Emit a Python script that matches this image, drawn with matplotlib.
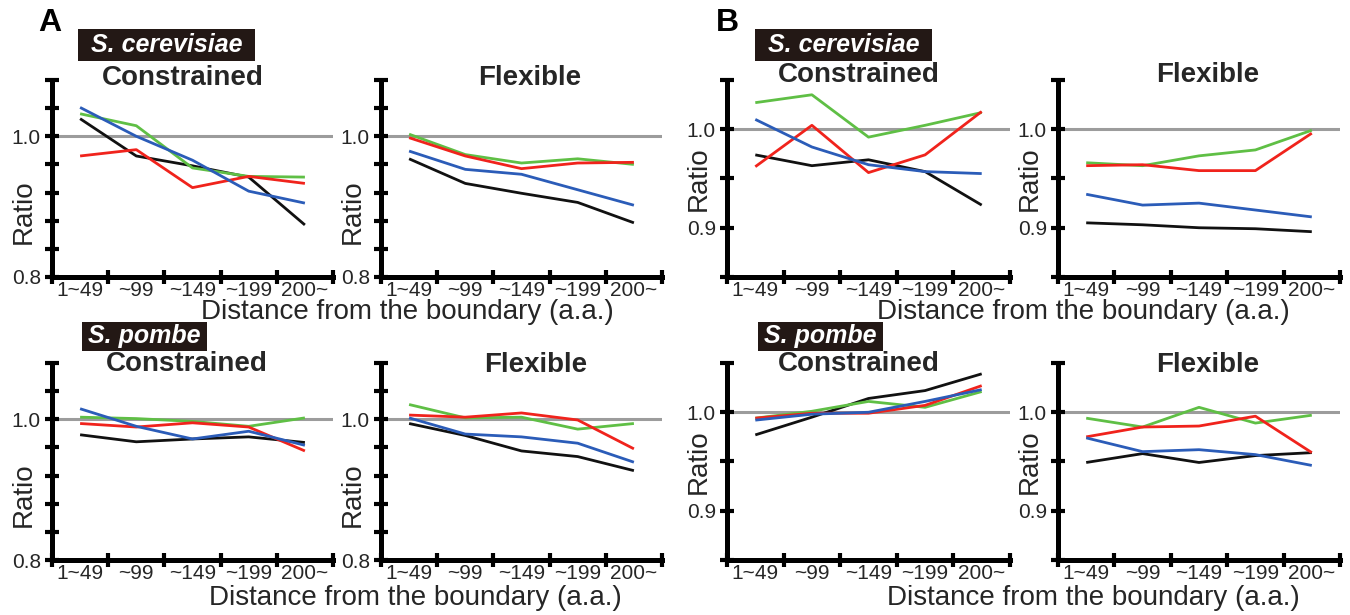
"""Ratio vs distance from the boundary, S. cerevisiae / S. pombe, panels A and B."""
import matplotlib
matplotlib.use("Agg")
import matplotlib.pyplot as plt
from matplotlib.patches import Rectangle

plt.rcParams["font.family"] = ["Liberation Sans", "DejaVu Sans"]

CATS = ["1~49", "~99", "~149", "~199", "200~"]
SERIES = ["black", "green", "red", "blue"]

# panel A (y 0.8 - 1.08)
A_CER_CON = {
    "black": [1.025, 0.972, 0.958, 0.942, 0.874],
    "green": [1.032, 1.015, 0.955, 0.943, 0.942],
    "red":   [0.972, 0.981, 0.927, 0.943, 0.933],
    "blue":  [1.041, 1.000, 0.966, 0.922, 0.905],
}
A_CER_FLX = {
    "black": [0.968, 0.933, 0.919, 0.906, 0.877],
    "green": [1.003, 0.974, 0.962, 0.968, 0.960],
    "red":   [0.998, 0.972, 0.954, 0.962, 0.963],
    "blue":  [0.979, 0.953, 0.946, 0.924, 0.902],
}
A_POM_CON = {
    "black": [0.978, 0.968, 0.972, 0.975, 0.967],
    "green": [1.003, 1.001, 0.997, 0.990, 1.002],
    "red":   [0.994, 0.989, 0.995, 0.989, 0.955],
    "blue":  [1.015, 0.990, 0.972, 0.983, 0.963],
}
A_POM_FLX = {
    "black": [0.994, 0.977, 0.955, 0.947, 0.927],
    "green": [1.021, 1.002, 1.003, 0.986, 0.994],
    "red":   [1.006, 1.003, 1.009, 0.999, 0.958],
    "blue":  [1.002, 0.979, 0.975, 0.966, 0.939],
}
# panel B (y 0.85 - 1.05)
B_CER_CON = {
    "black": [0.974, 0.963, 0.969, 0.957, 0.923],
    "green": [1.027, 1.035, 0.992, 1.004, 1.017],
    "red":   [0.962, 1.004, 0.956, 0.974, 1.018],
    "blue":  [1.010, 0.982, 0.964, 0.957, 0.955],
}
B_CER_FLX = {
    "black": [0.905, 0.903, 0.900, 0.899, 0.896],
    "green": [0.966, 0.963, 0.973, 0.979, 0.999],
    "red":   [0.963, 0.964, 0.958, 0.958, 0.996],
    "blue":  [0.934, 0.923, 0.925, 0.918, 0.911],
}
B_POM_CON = {
    "black": [0.977, 0.995, 1.014, 1.022, 1.039],
    "green": [0.994, 1.001, 1.011, 1.005, 1.021],
    "red":   [0.994, 0.999, 0.999, 1.007, 1.027],
    "blue":  [0.992, 0.998, 1.000, 1.011, 1.023],
}
B_POM_FLX = {
    "black": [0.949, 0.958, 0.949, 0.956, 0.959],
    "green": [0.994, 0.985, 1.005, 0.989, 0.997],
    "red":   [0.975, 0.985, 0.986, 0.996, 0.959],
    "blue":  [0.974, 0.960, 0.962, 0.957, 0.946],
}

COLORS = {"black": "#111111", "green": "#5fbf45", "red": "#f0231c", "blue": "#2b5cb8"}
TXT = "#262626"
W, H = 1350, 615


def px_box(x0, x1, ytop, ybot):
    return [x0 / W, 1 - ybot / H, (x1 - x0) / W, (ybot - ytop) / H]


def draw(fig, rect, data, title, tpos, panel, ratio_y):
    ax = fig.add_axes(rect)
    if panel == "A":
        ax.set_ylim(0.8, 1.08)
        ticks = [0.8, 0.84, 0.88, 0.92, 0.96, 1.0, 1.04, 1.08]
        labels = {0.8: "0.8", 1.0: "1.0"}
    else:
        ax.set_ylim(0.85, 1.05)
        ticks = [0.85, 0.9, 0.95, 1.0, 1.05]
        labels = {0.9: "0.9", 1.0: "1.0"}
    ax.set_yticks(ticks)
    ax.set_yticklabels([labels.get(round(t, 2), "") for t in ticks])
    ax.set_xlim(0, 5)
    ax.set_xticks(range(6))
    ax.set_xticklabels([])
    ax.set_xticks([i + 0.5 for i in range(5)], minor=True)
    ax.set_xticklabels(CATS, minor=True)
    ax.axhline(1.0, color="#9c9c9c", lw=2.2, zorder=1)
    xs = [i + 0.5 for i in range(len(CATS))]
    for s in SERIES:
        ax.plot(xs, data[s], color=COLORS[s], lw=2.0, zorder=3, solid_capstyle="butt")
    for side in ("top", "right"):
        ax.spines[side].set_visible(False)
    for side in ("left", "bottom"):
        ax.spines[side].set_linewidth(3.6)
        ax.spines[side].set_color("black")
    ax.tick_params(which="major", direction="inout", length=10, width=3,
                   labelsize=15, labelcolor=TXT, pad=3)
    ax.tick_params(axis="x", which="minor", length=0, labelsize=15,
                   labelcolor=TXT, pad=3)
    fig.text(tpos[0] / W, 1 - tpos[1] / H, title, fontsize=20, fontweight="bold",
             color=TXT, ha="center", va="center")
    ax.text(-0.1, ratio_y, "Ratio", rotation=90, ha="center", va="center",
            fontsize=20, color=TXT, transform=ax.transAxes)
    return ax


def species(fig, x0, x1, ytop, ybot, name):
    fig.patches.append(Rectangle((x0 / W, 1 - ybot / H), (x1 - x0) / W,
                                 (ybot - ytop) / H, transform=fig.transFigure,
                                 facecolor="#231815", edgecolor="none"))
    fig.text((x0 + x1) / 2 / W, 1 - (ytop + ybot) / 2 / H, name, color="white",
             fontsize=18, fontweight="bold", fontstyle="italic",
             ha="center", va="center")


fig = plt.figure(figsize=(13.5, 6.15), dpi=100)

draw(fig, px_box(52, 333, 80, 277), A_CER_CON, "Constrained", (183, 78), "A", 0.33)
draw(fig, px_box(381, 662, 80, 277), A_CER_FLX, "Flexible", (530, 78), "A", 0.33)
draw(fig, px_box(727, 1010, 80, 277), B_CER_CON, "Constrained", (859, 75), "B", 0.5)
draw(fig, px_box(1058, 1340, 80, 277), B_CER_FLX, "Flexible", (1208, 75), "B", 0.5)
draw(fig, px_box(52, 333, 363, 560), A_POM_CON, "Constrained", (187, 364), "A", 0.33)
draw(fig, px_box(381, 662, 363, 560), A_POM_FLX, "Flexible", (536, 365), "A", 0.33)
draw(fig, px_box(727, 1010, 363, 560), B_POM_CON, "Constrained", (859, 364), "B", 0.5)
draw(fig, px_box(1058, 1340, 363, 560), B_POM_FLX, "Flexible", (1208, 365), "B", 0.5)

species(fig, 78, 255, 29, 61, "S. cerevisiae")
species(fig, 755, 932, 29, 61, "S. cerevisiae")
species(fig, 82, 207, 322, 351, "S. pombe")
species(fig, 758, 883, 322, 351, "S. pombe")

xl = "Distance from the boundary (a.a.)"
for cx, cy in ((407, 312), (1083, 312), (415, 598), (1093, 598)):
    fig.text(cx / W, 1 - cy / H, xl, fontsize=20, color=TXT, ha="center", va="center")

fig.text(50 / W, 1 - 23 / H, "A", fontsize=23, fontweight="bold", ha="center", va="center")
fig.text(727 / W, 1 - 23 / H, "B", fontsize=23, fontweight="bold", ha="center", va="center")

fig.savefig("out.png", dpi=100)
